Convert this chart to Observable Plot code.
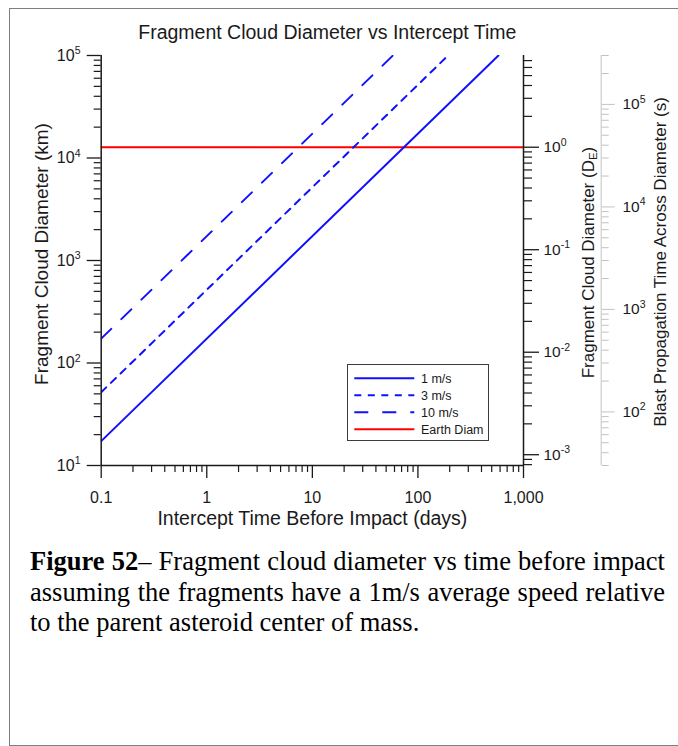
<!DOCTYPE html>
<html><head><meta charset="utf-8">
<script src="https://cdn.jsdelivr.net/npm/d3@7"></script>
<script src="https://cdn.jsdelivr.net/npm/@observablehq/plot@0.6"></script>
<style>
html,body{margin:0;padding:0;background:#fff;}
body{width:678px;height:746px;position:relative;overflow:hidden;font-family:"Liberation Sans",Arial,sans-serif;}
#frame{position:absolute;left:9px;top:8px;width:700px;height:736px;border:1px solid #7f7f7f;}
#chart{position:absolute;left:0;top:0;width:678px;height:530px;}
#legend{position:absolute;left:347px;top:364px;width:140px;height:75px;border:1px solid #3c3c3c;background:#fff;}
#legend svg{display:block;}
#caption{position:absolute;left:30px;top:546px;width:635px;font-family:"Liberation Serif","Times New Roman",serif;font-size:26.5px;line-height:30.5px;color:#000;}
#caption div{white-space:nowrap;text-align:justify;text-align-last:justify;}
#caption div.last{text-align-last:left;}
</style></head><body>
<div id="frame"></div>
<div id="chart"></div>
<div id="legend"></div>
<div id="caption">
<div><b>Figure 52</b>– Fragment cloud diameter vs time before impact</div>
<div>assuming the fragments have a 1m/s average speed relative</div>
<div class="last">to the parent asteroid center of mass.</div>
</div>
<script>
// ---- data ----
const seriesNames = ["1 m/s", "3 m/s", "10 m/s", "Earth Diam"];
const days1ms = [0.1, 579];   const diam1ms = [17.3, 100000];
const days3ms = [0.1, 193];   const diam3ms = [51.8, 100000];
const days10ms = [0.1, 57.9]; const diam10ms = [172.8, 100000];
const daysEarth = [0.1, 1000]; const diamEarth = [12742, 12742];
const earthDiamKm = 12742;          // 1 D_E
const blastSpeedKmPerS = 1 / 3;     // km per second

const xMajor = [0.1, 1, 10, 100, 1000];
const xLabels = ["0.1", "1", "10", "100", "1,000"];
const yMajor = [10, 100, 1000, 10000, 100000];
const yLabels = ["10^1", "10^2", "10^3", "10^4", "10^5"];
const deMajor = [0.001, 0.01, 0.1, 1];
const deLabels = ["10^-3", "10^-2", "10^-1", "10^0"];
const blastMajor = [100, 1000, 10000, 100000];
const blastLabels = ["10^2", "10^3", "10^4", "10^5"];

const titleText = "Fragment Cloud Diameter vs Intercept Time";
const xTitle = "Intercept Time Before Impact (days)";
const yTitle = "Fragment Cloud Diameter (km)";
const deTitle = "Fragment Cloud Diameter (D_E)";
const blastTitle = "Blast Propagation Time Across Diameter (s)";

// ---- helpers ----
function minors(lo, hi) {
  const out = [];
  for (let e = Math.floor(Math.log10(lo)); e <= Math.ceil(Math.log10(hi)); e++)
    for (let m = 2; m <= 9; m++) {
      const v = m * Math.pow(10, e);
      if (v >= lo * 0.999 && v <= hi * 1.001) out.push(v);
    }
  return out;
}
const zip = (xs, ys) => xs.map((x, i) => ({t: x, d: ys[i]}));
const toKm = v => v * earthDiamKm;
const blastToKm = s => s * blastSpeedKmPerS;

const xMinor = minors(0.1, 1000);
const yMinor = minors(10, 100000);
const deMajorKm = deMajor.map(toKm);
const deMinorKm = minors(10 / earthDiamKm, 100000 / earthDiamKm).map(toKm);
const blastMajorKm = blastMajor.map(blastToKm);
const blastMinorKm = minors(10 / blastSpeedKmPerS, 100000 / blastSpeedKmPerS).map(blastToKm);
const blastLabelRows = blastMajor.map((s, i) => ({km: blastToKm(s), label: blastLabels[i]}));

const black = "#1a1a1a", blue = "#1010ff", red = "#ff0000", grey = "#c2c2c2";
const fontFam = '"Liberation Sans", Arial, Helvetica, sans-serif';
const dashes = [null, "7,6.5", "14,14", null];
const colors = [blue, blue, blue, red];

const chart = Plot.plot({
  width: 678, height: 530,
  marginLeft: 100.7, marginRight: 155, marginTop: 55, marginBottom: 65,
  x: {type: "log", domain: [0.1, 1000], label: null},
  y: {type: "log", domain: [10, 100000], label: null},
  style: {fontFamily: fontFam, background: "transparent", color: black},
  marks: [
    Plot.line(zip(daysEarth, diamEarth), {x: "t", y: "d", stroke: red, strokeWidth: 2, clip: true}),
    Plot.line(zip(days1ms, diam1ms), {x: "t", y: "d", stroke: blue, strokeWidth: 2, clip: true}),
    Plot.line(zip(days3ms, diam3ms), {x: "t", y: "d", stroke: blue, strokeWidth: 2, strokeDasharray: dashes[1], clip: true}),
    Plot.line(zip(days10ms, diam10ms), {x: "t", y: "d", stroke: blue, strokeWidth: 2, strokeDasharray: dashes[2], clip: true}),

    Plot.ruleX([1000], {dx: 77.7, stroke: grey, strokeWidth: 1}),
    Plot.ruleX([0.1], {stroke: black, strokeWidth: 1.5}),
    Plot.ruleX([1000], {stroke: black, strokeWidth: 1.5}),
    Plot.ruleY([10], {stroke: black, strokeWidth: 1.5}),

    Plot.axisX(xMajor, {anchor: "bottom", tickSize: 13, tickPadding: 13, fontSize: 16, stroke: black, fill: black, strokeWidth: 1.3, label: null,
      tickFormat: d => xLabels[xMajor.indexOf(d)]}),
    Plot.axisX(xMinor, {anchor: "bottom", tickSize: 7, stroke: black, fill: "none", strokeWidth: 1.2, label: null}),

    Plot.axisY(yMajor, {anchor: "left", tickSize: 14, tickPadding: 6.7, fontSize: 16, stroke: black, fill: black, strokeWidth: 1.3, label: null,
      tickFormat: d => yLabels[yMajor.indexOf(d)]}),
    Plot.axisY(yMinor, {anchor: "left", tickSize: 7, stroke: black, fill: "none", strokeWidth: 1.2, label: null}),

    Plot.axisY(deMajorKm, {anchor: "right", tickSize: 15, tickPadding: 5, fontSize: 15.5, stroke: black, fill: black, strokeWidth: 1.3, label: null,
      tickFormat: d => deLabels[deMajorKm.indexOf(d)]}),
    Plot.axisY(deMinorKm, {anchor: "right", tickSize: 8, stroke: black, fill: "none", strokeWidth: 1.2, label: null}),

    Plot.axisY(blastMajorKm, {anchor: "right", dx: 77.7, tickSize: 13, stroke: grey, fill: "none", strokeWidth: 1, label: null}),
    Plot.axisY(blastMinorKm, {anchor: "right", dx: 77.7, tickSize: 7, stroke: grey, fill: "none", strokeWidth: 1, label: null}),
    Plot.text(blastLabelRows, {y: "km", text: "label", frameAnchor: "right", textAnchor: "start", lineAnchor: "middle", dx: 99, fontSize: 15.5, fill: black}),

    Plot.text([titleText], {text: d => d, frameAnchor: "top", textAnchor: "middle", lineAnchor: "middle", dx: 15, dy: -23, fontSize: 19.5, fill: black}),
    Plot.text([xTitle], {text: d => d, frameAnchor: "bottom", textAnchor: "middle", lineAnchor: "middle", dy: 53, fontSize: 19.5, fill: black}),
    Plot.text([yTitle], {text: d => d, frameAnchor: "left", textAnchor: "middle", lineAnchor: "middle", rotate: -90, dx: -59.7, dy: -6.5, fontSize: 19, fill: black}),
    Plot.text([deTitle], {text: d => d, frameAnchor: "right", textAnchor: "middle", lineAnchor: "middle", rotate: -90, dx: 64.6, dy: 2, fontSize: 17, fill: black}),
    Plot.text([blastTitle], {text: d => d, frameAnchor: "right", textAnchor: "middle", lineAnchor: "middle", rotate: -90, dx: 137.5, dy: 1.5, fontSize: 17, fill: black})
  ]
});

// superscripts / subscript as real text
const svgNS = "http://www.w3.org/2000/svg";
chart.querySelectorAll("text").forEach(t => {
  const s = t.textContent;
  const m = s.match(/^10\^(-?\d+)$/);
  if (m) {
    t.textContent = "10";
    const ts = document.createElementNS(svgNS, "tspan");
    ts.setAttribute("font-size", "10.5px");
    ts.setAttribute("dy", "-6.5px");
    ts.textContent = m[1];
    t.appendChild(ts);
  } else if (s === deTitle) {
    t.textContent = "Fragment Cloud Diameter (D";
    const sub = document.createElementNS(svgNS, "tspan");
    sub.setAttribute("font-size", "11.5px");
    sub.setAttribute("dy", "3.5px");
    sub.textContent = "E";
    const close = document.createElementNS(svgNS, "tspan");
    close.setAttribute("dy", "-3.5px");
    close.textContent = ")";
    t.appendChild(sub);
    t.appendChild(close);
  }
});
document.getElementById("chart").appendChild(chart);

// legend
const leg = d3.select("#legend").append("svg").attr("width", 140).attr("height", 75);
seriesNames.forEach((name, i) => {
  const y = 13.3 + 17 * i;
  const ln = leg.append("line").attr("x1", 6.3).attr("x2", 66.3).attr("y1", y).attr("y2", y)
    .attr("stroke", colors[i]).attr("stroke-width", 2);
  if (dashes[i]) ln.attr("stroke-dasharray", dashes[i]);
  leg.append("text").attr("x", 73).attr("y", y + 4.3).attr("font-size", "12.5px")
    .attr("font-family", fontFam).attr("fill", black).text(name);
});
</script>
</body></html>
